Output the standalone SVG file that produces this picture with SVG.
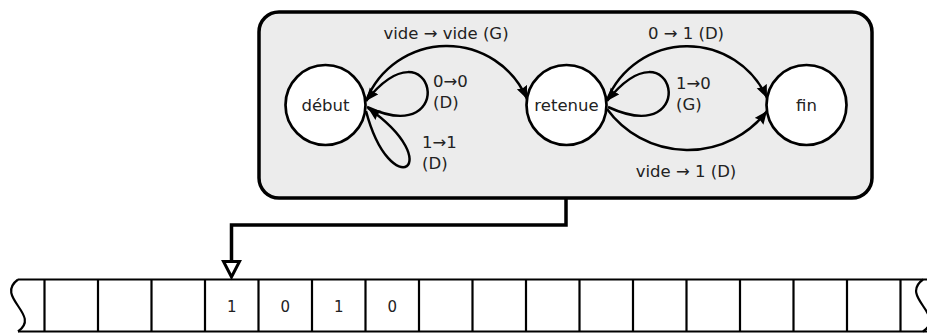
<svg xmlns="http://www.w3.org/2000/svg" width="927" height="336" viewBox="0 0 927 336">
<style>
text{font-family:"DejaVu Sans",sans-serif;fill:#222}
.node{font-size:16.5px;text-anchor:middle}
.lbl{font-size:16.5px}
.mid{text-anchor:middle}
.cell{font-size:15px;text-anchor:middle}
.edge{fill:none;stroke:#000;stroke-width:2.5;marker-end:url(#ah)}
.st{fill:#fff;stroke:#000;stroke-width:2.7}
.tape{fill:none;stroke:#000;stroke-width:2.2}
</style>
<defs>
<marker id="ah" markerUnits="userSpaceOnUse" markerWidth="14" markerHeight="12" refX="13" refY="5.5" orient="auto">
<path d="M0,0 L13,5.5 L0,11 L1.5,5.5 Z" fill="#000"/>
</marker>
</defs>
<g id="machine">
<rect x="259" y="12" width="613" height="186" rx="20" ry="20" fill="#ececec" stroke="#000" stroke-width="3.5"/>
</g>
<g id="debut"><circle class="st" cx="325.5" cy="105" r="40"/><text class="node" x="325.5" y="111">début</text></g>
<g id="retenue"><circle class="st" cx="566.5" cy="105" r="40"/><text class="node" x="566.5" y="111">retenue</text></g>
<g id="fin"><circle class="st" cx="806.5" cy="105" r="40"/><text class="node" x="806.5" y="111">fin</text></g>
<g id="connectors">
<path class="edge" d="M366,101 A87,87 0 0 1 527,99"/>
<path class="edge" d="M367,107 C461,150 434,16 366,101"/>
<path class="edge" d="M366,111 C391,205 449,165 368,108"/>
<path class="edge" d="M608,107 C702,150 675,16 607,101"/>
<path class="edge" d="M607,100 A87,87 0 0 1 767,98"/>
<path class="edge" d="M607,109 A100,100 0 0 0 767,111"/>
<path d="M566,198 V225 H231.5 V262" fill="none" stroke="#000" stroke-width="3.5"/>
<path d="M223.5,261.5 L239.5,261.5 L231.5,277 Z" fill="#fff" stroke="#000" stroke-width="3" stroke-linejoin="miter"/>
</g>
<g id="labels">
<text class="lbl mid" x="446" y="39">vide → vide (G)</text>
<text class="lbl" x="433" y="87">0→0</text>
<text class="lbl" x="433" y="108">(D)</text>
<text class="lbl" x="422" y="148">1→1</text>
<text class="lbl" x="422" y="169">(D)</text>
<text class="lbl mid" x="686" y="39">0 → 1 (D)</text>
<text class="lbl" x="676" y="89">1→0</text>
<text class="lbl" x="676" y="110">(G)</text>
<text class="lbl mid" x="686" y="177">vide → 1 (D)</text>
</g>
<g id="tape">
<line class="tape" x1="18" y1="279.5" x2="927" y2="279.5"/>
<line class="tape" x1="18" y1="331.5" x2="927" y2="331.5"/>
<path class="tape" d="M18,279.5 C-6,297 42,315 18,331.5"/>
<path class="tape" d="M923,279.5 C899,297 947,315 923,331.5"/>
<path class="tape" d="M44.5,279.5V331.5M98,279.5V331.5M151.5,279.5V331.5M205,279.5V331.5M258.5,279.5V331.5M312,279.5V331.5M365.5,279.5V331.5M419,279.5V331.5M472.5,279.5V331.5M526,279.5V331.5M579.5,279.5V331.5M633,279.5V331.5M686.5,279.5V331.5M740,279.5V331.5M793.5,279.5V331.5M847,279.5V331.5M900.5,279.5V331.5"/>
<text class="cell" x="231.75" y="312">1</text>
<text class="cell" x="285.25" y="312">0</text>
<text class="cell" x="338.75" y="312">1</text>
<text class="cell" x="392.25" y="312">0</text>
</g>
</svg>
